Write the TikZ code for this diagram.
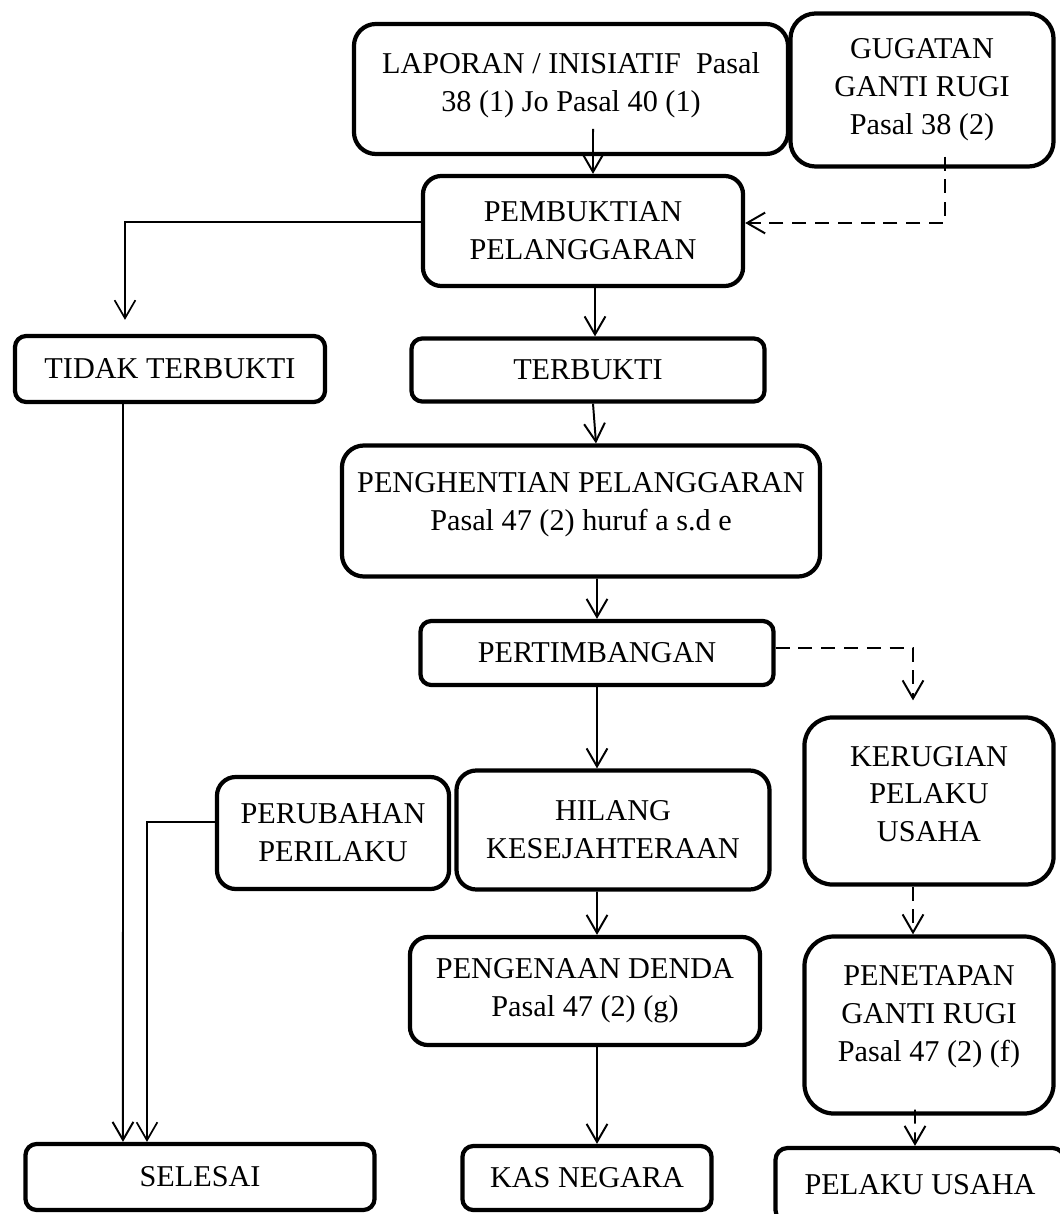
\documentclass[tikz,border=0pt]{standalone}
\usepackage{fontspec}
\setmainfont{Liberation Serif}
\usetikzlibrary{arrows.meta}

\begin{document}
\begin{tikzpicture}[x=0.025cm, y=-0.025cm, line width=1.4pt,
  box/.style={draw, line width=3pt, rounded corners=#1, align=center, inner sep=0pt, font=\fontsize{21.5}{27}\selectfont},
  box/.default=0.5cm,
  arr/.style={-{Straight Barb[length=0.45cm,width=0.52cm]}},
  arrdashed/.style={arr, dash pattern=on 0.35cm off 0.22cm}]
\useasboundingbox (0,0) rectangle (1059,1214);
\node[box=0.55cm, minimum width=10.85cm, minimum height=3.25cm, text depth=10.6pt] (1) at (571,89) {LAPORAN / INISIATIF~ Pasal\\38 (1) Jo Pasal 40 (1)};
\node[box=0.63cm, minimum width=6.575cm, minimum height=3.825cm] (2) at (922,90) {GUGATAN\\GANTI RUGI\\Pasal 38 (2)};
\node[box=0.46cm, minimum width=8cm, minimum height=2.75cm] (3) at (583,231) {PEMBUKTIAN\\PELANGGARAN};
\node[box=0.28cm, minimum width=7.75cm, minimum height=1.65cm] (4) at (170,369) {TIDAK TERBUKTI};
\node[box=0.27cm, minimum width=8.825cm, minimum height=1.575cm] (5) at (588,370) {TERBUKTI};
\node[box=0.55cm, minimum width=11.95cm, minimum height=3.275cm, text depth=13.4pt] (6) at (581,511) {PENGHENTIAN PELANGGARAN\\Pasal 47 (2) huruf a s.d e};
\node[box=0.27cm, minimum width=8.825cm, minimum height=1.6cm] (7) at (597,653) {PERTIMBANGAN};
\node[box=0.7cm, minimum width=6.225cm, minimum height=4.175cm, text depth=10pt] (8) at (929,801) {KERUGIAN\\PELAKU\\USAHA};
\node[box=0.47cm, minimum width=5.8cm, minimum height=2.8cm] (9) at (333,833) {PERUBAHAN\\PERILAKU};
\node[box=0.5cm, minimum width=7.825cm, minimum height=2.975cm] (10) at (613,830) {HILANG\\KESEJAHTERAAN};
\node[box=0.45cm, minimum width=8.75cm, minimum height=2.7cm] (11) at (585,991) {PENGENAAN DENDA\\Pasal 47 (2) (g)};
\node[box=0.74cm, minimum width=6.225cm, minimum height=4.425cm, text depth=17pt] (12) at (929,1025) {PENETAPAN\\GANTI RUGI\\Pasal 47 (2) (f)};
\node[box=0.28cm, minimum width=8.725cm, minimum height=1.65cm] (13) at (200,1177) {SELESAI};
\node[box=0.27cm, minimum width=6.225cm, minimum height=1.6cm] (14) at (587,1178) {KAS NEGARA};
\node[box=0.3cm, minimum width=7.225cm, minimum height=1.85cm] (15) at (920,1185) {PELAKU USAHA};
\draw[arr] ([xshift=0.55cm,yshift=0.68cm]1.south) -- ([xshift=0.25cm]3.north);
\draw[arrdashed] ([xshift=0.575cm,yshift=0.3cm]2.south) |- ([yshift=0.2cm]3.east);
\draw[arr, line width=1.2pt] ([yshift=0.225cm]3.west) -| ([xshift=-1.125cm,yshift=0.35cm]4.north);
\draw[arr] ([xshift=0.3cm]3.south) -- ([xshift=0.175cm]5.north);
\draw[arr] ([xshift=0.125cm]5.south) -- ([xshift=0.375cm]6.north);
\draw[arr] ([xshift=0.4cm]6.south) -- (7.north);
\draw[arr] (7.south) -- ([xshift=-0.4cm]10.north);
\draw[arrdashed] ([yshift=0.125cm]7.east) -| ([xshift=-0.4cm,yshift=0.375cm]8.north);
\draw[arrdashed] ([xshift=-0.4cm]8.south) -- ([xshift=-0.4cm]12.north);
\draw[arr] ([xshift=-0.4cm]10.south) -- ([xshift=0.3cm]11.north);
\draw[arr] ([xshift=0.3cm]11.south) -- ([xshift=0.25cm]14.north);
\draw[arrdashed] ([xshift=-0.35cm,yshift=0.15cm]12.south) -- ([xshift=-0.125cm]15.north);
\draw[arr] ([xshift=-1.175cm]4.south) -- ([xshift=-1.925cm]13.north);
\draw[arr, line width=1.2pt] ([yshift=0.275cm]9.west) -| ([xshift=-1.325cm]13.north);
\end{tikzpicture}
\end{document}
